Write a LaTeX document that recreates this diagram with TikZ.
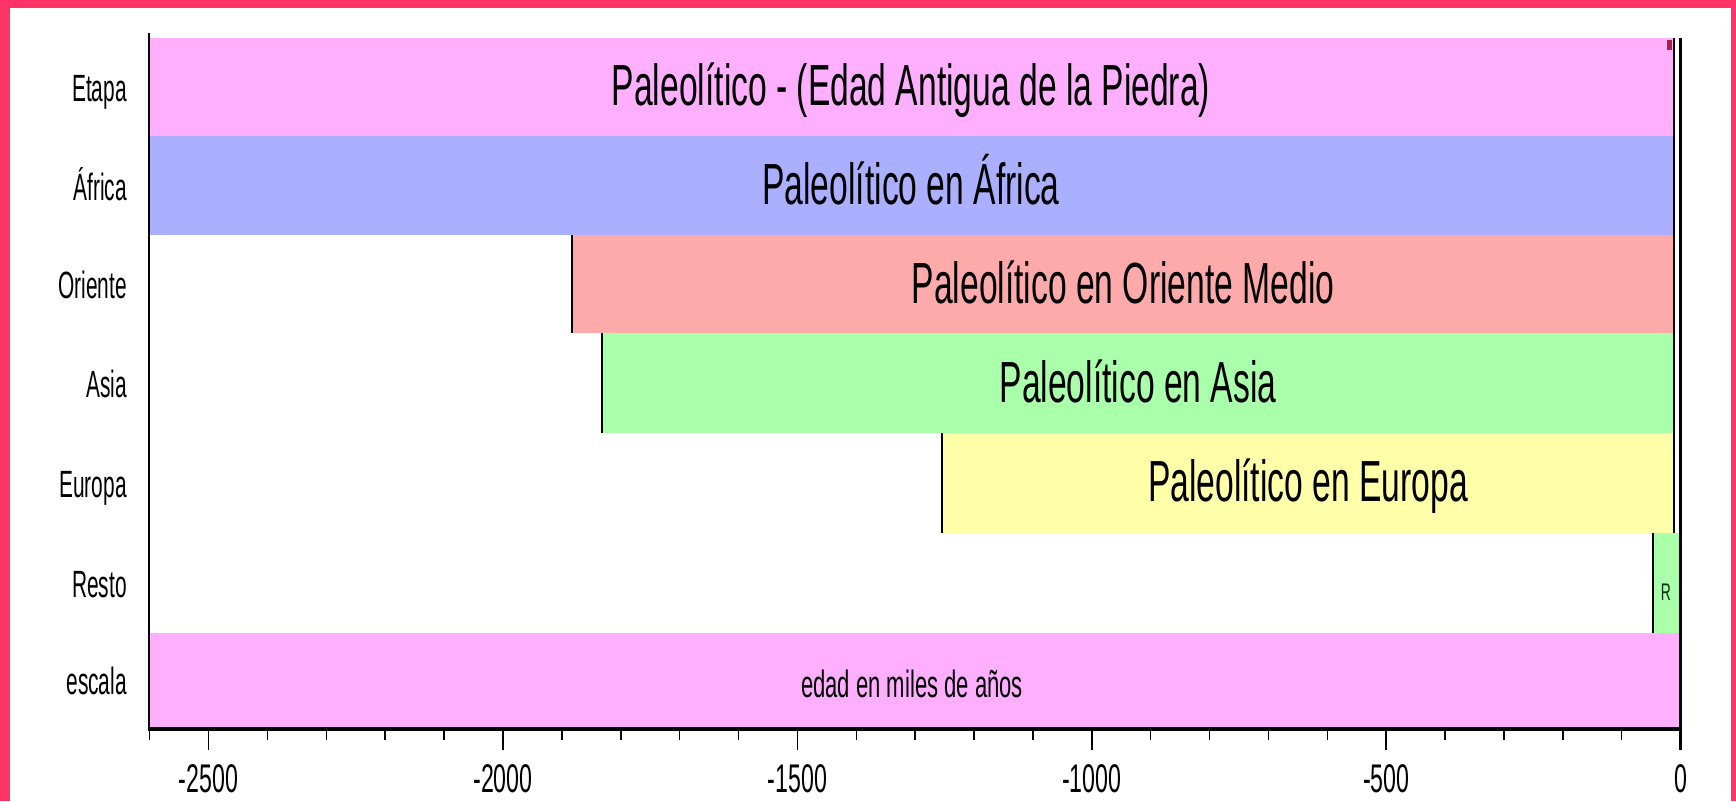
\documentclass[tikz,border=0pt]{standalone}
\usepackage{fontspec}
\newfontfamily\narrowfont[FakeStretch=0.58]{Liberation Sans}
\newfontfamily\slimfont[FakeStretch=0.55]{Liberation Sans}
\definecolor{framecol}{HTML}{FF3366}
\definecolor{etapacol}{HTML}{FFAFFF}
\definecolor{africacol}{HTML}{AAB0FF}
\definecolor{orientecol}{HTML}{FFAAAA}
\definecolor{asiacol}{HTML}{AAFFAA}
\definecolor{europacol}{HTML}{FFFFAA}
\definecolor{markcol}{HTML}{AA2244}
\tikzset{
  bigtxt/.style={font=\narrowfont\fontsize{58}{60}\selectfont, inner sep=0pt, anchor=base, text=black},
  rowlab/.style={font=\slimfont\fontsize{38}{40}\selectfont, inner sep=0pt, anchor=base east, text=black},
  ticklab/.style={font=\narrowfont\fontsize{40}{42}\selectfont, inner sep=0pt, anchor=base, text=black},
  scalelab/.style={font=\narrowfont\fontsize{38}{40}\selectfont, inner sep=0pt, anchor=base, text=black},
  rlab/.style={font=\narrowfont\fontsize{24}{26}\selectfont, inner sep=0pt, anchor=base, text=black!70!green!60!black},
  startline/.style={line width=2pt, black},
}
\begin{document}
\begin{tikzpicture}[x=1pt,y=-1pt]
\useasboundingbox (0,0) rectangle (1736,801);
\fill[framecol] (0,0) rectangle (1736,801);
\fill[white] (10,8) rectangle (1731,801);
% bars
\fill[etapacol] (149,38) rectangle (1674,136);
\fill[africacol] (149,136) rectangle (1674,235);
\fill[orientecol] (572,235) rectangle (1674,333);
\fill[asiacol] (602,333) rectangle (1674,433);
\fill[europacol] (942,433) rectangle (1674,533);
\fill[asiacol] (1653,533) rectangle (1680,633);
\fill[etapacol] (149,633) rectangle (1680,728);
% start / end lines
\draw[startline] (572,235) -- (572,333);
\draw[startline] (602,333) -- (602,433);
\draw[startline] (942,433) -- (942,533);
\draw[startline] (1653,533) -- (1653,633);
\draw[startline] (1674,38) -- (1674,533);
\fill[markcol] (1667,40) rectangle (1672,50);
% bar texts
\node[bigtxt] (tetapa) at (911,105) {Paleolítico - (Edad Antigua de la Piedra)};
\node[bigtxt] (tafrica) at (911,204) {Paleolítico en África};
\node[bigtxt] (toriente) at (1123,303) {Paleolítico en Oriente Medio};
\node[bigtxt] (tasia) at (1138,402) {Paleolítico en Asia};
\node[bigtxt] (teuropa) at (1308,501) {Paleolítico en Europa};
\node[rlab] (tr) at (1666,600) {R};
\node[scalelab] (tescala) at (912,697) {edad en miles de años};
% row labels
\node[rowlab] (letapa) at (127,101) {Etapa};
\node[rowlab] (lafrica) at (127,200) {África};
\node[rowlab] (loriente) at (127,298) {Oriente};
\node[rowlab] (lasia) at (127,397) {Asia};
\node[rowlab] (leuropa) at (127,497) {Europa};
\node[rowlab] (lresto) at (127,597) {Resto};
\node[rowlab] (lescala) at (127,694) {escala};
% axes
\draw[line width=2.5pt] (149,33) -- (149,729);
\draw[line width=3pt] (1680.6,38) -- (1680.6,750);
\foreach \v in {-2600,-2500,...,-100} {
  \draw[line width=1.5pt] ({1680.6+\v*0.5888},729) -- ({1680.6+\v*0.5888},740);
}
\foreach \v in {-2500,-2000,-1500,-1000,-500} {
  \draw[line width=1.5pt] ({1680.6+\v*0.5888},729) -- ({1680.6+\v*0.5888},750);
}
\draw[line width=3.5pt] (147.75,729) -- (1682,729);
\foreach \v/\n in {-2500/a,-2000/b,-1500/c,-1000/d,-500/e,0/f} {
  \node[ticklab] (tick\n) at ({1680.6+\v*0.5888},792) {\v};
}
\end{tikzpicture}
\end{document}
